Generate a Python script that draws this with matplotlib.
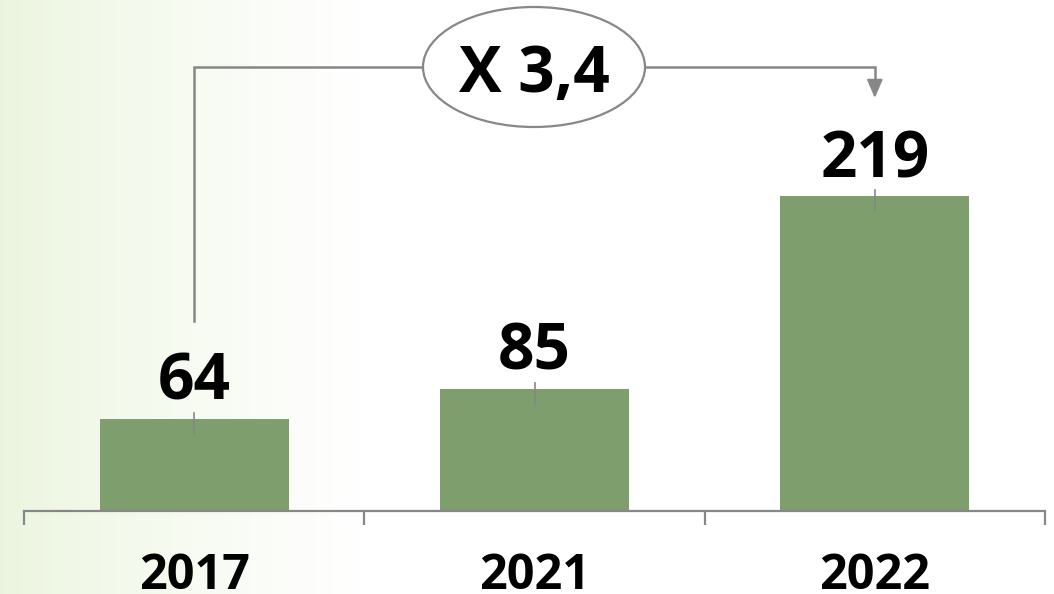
import matplotlib
matplotlib.use('Agg')
import matplotlib.pyplot as plt
import numpy as np
from matplotlib.patches import Ellipse

# ---- data ----
years = ['2017', '2021', '2022']
values = [64, 85, 219]
ratio_label = 'X 3,4'

W, H = 1054, 594
BAR_COLOR = '#7E9E6D'
GREY = '#878787'
FONT = 'Open Sans'

fig = plt.figure(figsize=(W / 100, H / 100), dpi=100)

# background gradient (light green at left fading to white)
bg = fig.add_axes([0, 0, 1, 1], zorder=0)
xs = np.arange(W)
t = np.clip(xs / 360.0, 0, 1) ** 0.8
left = np.array([235, 245, 222]) / 255.0
white = np.array([1.0, 1.0, 1.0])
row = left[None, :] * (1 - t[:, None]) + white[None, :] * t[:, None]
img = np.repeat(row[None, :, :], 2, axis=0)
bg.imshow(img, aspect='auto', extent=[0, 1, 0, 1])
bg.set_axis_off()

# main axes geometry (pixels)
x_left_px, x_right_px = 24, 1045
axis_y_px = 511
px_per_unit = 1.4375
cat_px = (x_right_px - x_left_px) / 3.0

ax = fig.add_axes([x_left_px / W, (H - axis_y_px) / H,
                   (x_right_px - x_left_px) / W, axis_y_px / H], zorder=1)
ax.patch.set_alpha(0)
ax.set_xlim(-0.5, 2.5)
ax.set_ylim(0, axis_y_px / px_per_unit)

def pu(px):
    return px / px_per_unit

def xd(px):
    return (px - x_left_px) / cat_px - 0.5

def yd(px):
    return (axis_y_px - px) / px_per_unit

x = np.arange(len(values))
ax.bar(x, values, width=0.555, color=BAR_COLOR, zorder=2)

for s in ['top', 'right', 'left']:
    ax.spines[s].set_visible(False)
ax.spines['bottom'].set_color(GREY)
ax.spines['bottom'].set_linewidth(1.6)
ax.set_yticks([])
ax.set_xticks([-0.5, 0.5, 1.5, 2.5])
ax.set_xticklabels([])
ax.tick_params(axis='x', length=10, width=1.6, color=GREY, direction='out')

# value labels + leader ticks
for i, v in enumerate(values):
    ax.plot([i, i], [v + pu(6), v - pu(15)], color=GREY, lw=1.2, zorder=3)
    ax.text(i, v + pu(19), str(v), ha='center', va='baseline',
            fontsize=46, fontweight='bold', family=FONT, color='black', zorder=4)

# year labels
for i, yr in enumerate(years):
    ax.text(i, -pu(589 - axis_y_px), yr, ha='center', va='baseline',
            fontsize=35, fontweight='bold', family=FONT, color='black',
            clip_on=False)

# bracket with ratio ellipse
y_top = yd(67)
e_cx, e_w, e_h = xd(534), 222 / cat_px, pu(120)
ax.plot([0, 0, e_cx - e_w / 2], [yd(321), y_top, y_top], color=GREY, lw=1.8,
        solid_joinstyle='miter', zorder=3, clip_on=False)
ax.plot([e_cx + e_w / 2, 2, 2], [y_top, y_top, yd(90)], color=GREY, lw=1.8,
        solid_joinstyle='miter', zorder=3, clip_on=False)
ax.annotate('', xy=(2, yd(98)), xytext=(2, yd(84)),
            arrowprops=dict(arrowstyle='-|>,head_length=0.7,head_width=0.3',
                            color=GREY, lw=1.5, mutation_scale=16,
                            shrinkA=0, shrinkB=0),
            annotation_clip=False, zorder=3)
ell = Ellipse((e_cx, yd(67)), e_w, e_h, facecolor='white', edgecolor=GREY,
              lw=1.6, zorder=3, clip_on=False)
ax.add_patch(ell)
ax.text(e_cx, yd(92), ratio_label, ha='center', va='baseline', fontsize=46,
        fontweight='bold', family=FONT, color='black', zorder=4, clip_on=False)

fig.savefig('out.png', dpi=100)
